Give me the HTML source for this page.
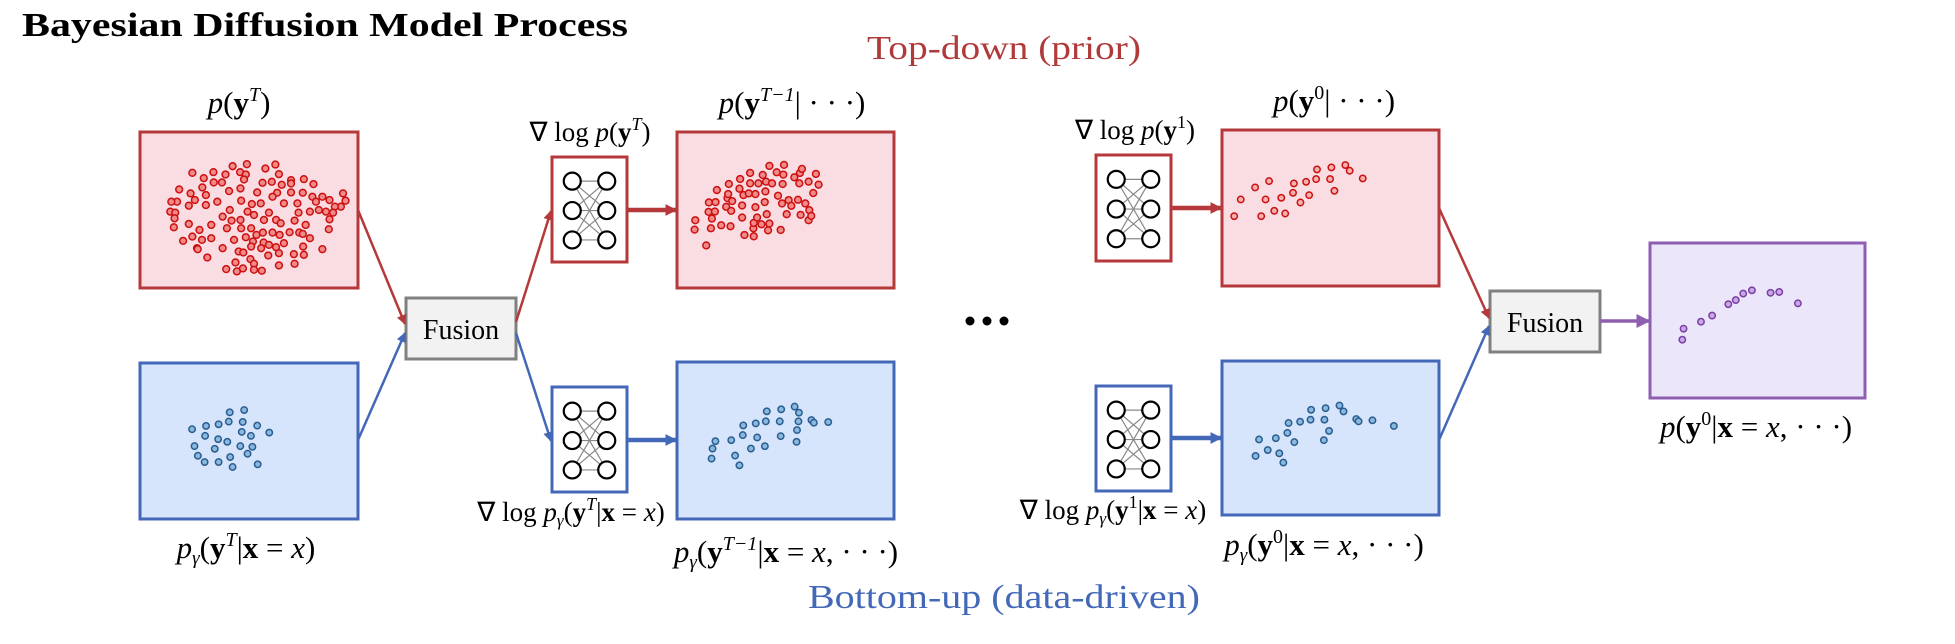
<!DOCTYPE html>
<html><head><meta charset="utf-8"><title>Bayesian Diffusion Model Process</title>
<style>
html,body{margin:0;padding:0;background:#fff;}
svg{display:block;}
text{font-family:"Liberation Serif",serif;}
</style></head>
<body>
<svg id="fig" width="1955" height="644" viewBox="0 0 1955 644" xmlns="http://www.w3.org/2000/svg">
<defs>
<marker id="ar" viewBox="0 0 10 10" refX="9" refY="5" markerWidth="4" markerHeight="4" orient="auto"><path d="M0,0 L10,5 L0,10 z" fill="#b5393a"/></marker>
<marker id="ab" viewBox="0 0 10 10" refX="9" refY="5" markerWidth="4" markerHeight="4" orient="auto"><path d="M0,0 L10,5 L0,10 z" fill="#4468b8"/></marker>
<marker id="ap" viewBox="0 0 10 10" refX="9" refY="5" markerWidth="4" markerHeight="4" orient="auto"><path d="M0,0 L10,5 L0,10 z" fill="#8e5fb0"/></marker>
<marker id="ar2" viewBox="0 0 10 10" refX="9" refY="5" markerWidth="2.6" markerHeight="2.6" orient="auto"><path d="M0,0 L10,5 L0,10 z" fill="#b5393a"/></marker>
<marker id="ab2" viewBox="0 0 10 10" refX="9" refY="5" markerWidth="2.6" markerHeight="2.6" orient="auto"><path d="M0,0 L10,5 L0,10 z" fill="#4468b8"/></marker>
</defs>

<text x="22" y="36" font-size="34" font-weight="bold" textLength="606" lengthAdjust="spacingAndGlyphs">Bayesian Diffusion Model Process</text>
<text x="867" y="59" font-size="34" fill="#b03a3a" textLength="274" lengthAdjust="spacingAndGlyphs">Top-down (prior)</text>
<text x="808" y="608" font-size="34" fill="#4468b8" textLength="392" lengthAdjust="spacingAndGlyphs">Bottom-up (data-driven)</text>

<rect x="140" y="132" width="218" height="156" fill="#f9dde2" stroke="#b5393a" stroke-width="3"/>
<rect x="140" y="363" width="218" height="156" fill="#d6e4fc" stroke="#4468b8" stroke-width="3"/>
<rect x="406" y="298" width="110" height="61" fill="#f2f2f2" stroke="#808080" stroke-width="3"/>
<text x="461" y="339" font-size="28" text-anchor="middle">Fusion</text>
<rect x="677" y="132" width="217" height="156" fill="#f9dde2" stroke="#b5393a" stroke-width="3"/>
<rect x="677" y="362" width="217" height="157" fill="#d6e4fc" stroke="#4468b8" stroke-width="3"/>
<rect x="1222" y="130" width="217" height="156" fill="#f9dde2" stroke="#b5393a" stroke-width="3"/>
<rect x="1222" y="361" width="217" height="154" fill="#d6e4fc" stroke="#4468b8" stroke-width="3"/>
<rect x="1490" y="291" width="110" height="61" fill="#f2f2f2" stroke="#808080" stroke-width="3"/>
<text x="1545" y="332" font-size="28" text-anchor="middle">Fusion</text>
<rect x="1650" y="243" width="215" height="155" fill="#ece6fa" stroke="#8e5fb0" stroke-width="3"/>

<g fill="#000">
<circle cx="970" cy="321" r="4.5"/><circle cx="987" cy="321" r="4.5"/><circle cx="1004" cy="321" r="4.5"/>
</g>

<g fill="none" stroke-width="2.5">
<line x1="358" y1="210" x2="405" y2="324" stroke="#b5393a" marker-end="url(#ar)"/>
<line x1="358" y1="440" x2="405" y2="333" stroke="#4468b8" marker-end="url(#ab)"/>
<line x1="516" y1="322" x2="551" y2="211" stroke="#b5393a" marker-end="url(#ar)"/>
<line x1="516" y1="333" x2="551" y2="441" stroke="#4468b8" marker-end="url(#ab)"/>
<line x1="1439" y1="208" x2="1489" y2="318" stroke="#b5393a" marker-end="url(#ar)"/>
<line x1="1439" y1="440" x2="1489" y2="326" stroke="#4468b8" marker-end="url(#ab)"/>
<line x1="1600" y1="321" x2="1649" y2="321" stroke="#8e5fb0" stroke-width="3.5" marker-end="url(#ap)"/>
<line x1="627" y1="210" x2="676" y2="210" stroke="#b5393a" stroke-width="4.5" marker-end="url(#ar2)"/>
<line x1="627" y1="440" x2="676" y2="440" stroke="#4468b8" stroke-width="4.5" marker-end="url(#ab2)"/>
<line x1="1171" y1="208" x2="1221" y2="208" stroke="#b5393a" stroke-width="4.5" marker-end="url(#ar2)"/>
<line x1="1171" y1="438" x2="1221" y2="438" stroke="#4468b8" stroke-width="4.5" marker-end="url(#ab2)"/>
</g>

<g id="nets"></g>
<g id="dots"></g>

<g font-size="31" text-anchor="middle">
<text x="239" y="113"><tspan font-style="italic">p</tspan>(<tspan font-weight="bold">y</tspan><tspan font-style="italic" font-size="20" dy="-12">T</tspan><tspan dy="12">)</tspan></text>
<text x="590" y="141" font-size="27"><tspan>∇ log </tspan><tspan font-style="italic">p</tspan>(<tspan font-weight="bold">y</tspan><tspan font-style="italic" font-size="18" dy="-11">T</tspan><tspan dy="11">)</tspan></text>
<text x="792" y="113"><tspan font-style="italic">p</tspan>(<tspan font-weight="bold">y</tspan><tspan font-style="italic" font-size="20" dy="-12">T−1</tspan><tspan dy="12">| · · ·)</tspan></text>
<text x="1135" y="139" font-size="27"><tspan>∇ log </tspan><tspan font-style="italic">p</tspan>(<tspan font-weight="bold">y</tspan><tspan font-size="18" dy="-11">1</tspan><tspan dy="11">)</tspan></text>
<text x="1334" y="111"><tspan font-style="italic">p</tspan>(<tspan font-weight="bold">y</tspan><tspan font-size="20" dy="-12">0</tspan><tspan dy="12">| · · ·)</tspan></text>
<text x="246" y="558"><tspan font-style="italic">p</tspan><tspan font-style="italic" font-size="19" dy="6">γ</tspan><tspan dy="-6">(</tspan><tspan font-weight="bold">y</tspan><tspan font-style="italic" font-size="20" dy="-12">T</tspan><tspan dy="12">|</tspan><tspan font-weight="bold">x</tspan> = <tspan font-style="italic">x</tspan>)</text>
<text x="571" y="521" font-size="27"><tspan>∇ log </tspan><tspan font-style="italic">p</tspan><tspan font-style="italic" font-size="17" dy="5">γ</tspan><tspan dy="-5">(</tspan><tspan font-weight="bold">y</tspan><tspan font-style="italic" font-size="18" dy="-11">T</tspan><tspan dy="11">|</tspan><tspan font-weight="bold">x</tspan> = <tspan font-style="italic">x</tspan>)</text>
<text x="786" y="562"><tspan font-style="italic">p</tspan><tspan font-style="italic" font-size="19" dy="6">γ</tspan><tspan dy="-6">(</tspan><tspan font-weight="bold">y</tspan><tspan font-style="italic" font-size="20" dy="-12">T−1</tspan><tspan dy="12">|</tspan><tspan font-weight="bold">x</tspan> = <tspan font-style="italic">x</tspan>, · · ·)</text>
<text x="1113" y="519" font-size="27"><tspan>∇ log </tspan><tspan font-style="italic">p</tspan><tspan font-style="italic" font-size="17" dy="5">γ</tspan><tspan dy="-5">(</tspan><tspan font-weight="bold">y</tspan><tspan font-size="18" dy="-11">1</tspan><tspan dy="11">|</tspan><tspan font-weight="bold">x</tspan> = <tspan font-style="italic">x</tspan>)</text>
<text x="1324" y="555"><tspan font-style="italic">p</tspan><tspan font-style="italic" font-size="19" dy="6">γ</tspan><tspan dy="-6">(</tspan><tspan font-weight="bold">y</tspan><tspan font-size="20" dy="-12">0</tspan><tspan dy="12">|</tspan><tspan font-weight="bold">x</tspan> = <tspan font-style="italic">x</tspan>, · · ·)</text>
<text x="1756" y="437"><tspan font-style="italic">p</tspan>(<tspan font-weight="bold">y</tspan><tspan font-size="20" dy="-12">0</tspan><tspan dy="12">|</tspan><tspan font-weight="bold">x</tspan> = <tspan font-style="italic">x</tspan>, · · ·)</text>
</g>
</svg>
<script>
const priorTX = [255,287,314,348,368,408,389,405,460,488,498,532,568,595,218,250,283,293,315,338,358,390,400,437,452,478,506,532,493,532,565,592,620,640,678,685,672,655,650,640,630,610,602,585,550,553,512,480,470,490,503,456,447,422,410,428,392,360,340,325,293,262,245,212,196,193,207,205,203,245,275,308,352,365,392,390,420,435,453,480,500,528,555,565,585,573,542,638,229,255,282,308,340,372,405,425,455,470,490,512,540,566,568,498,468,448,420,385,398,297,268,350,376,380,397,418,428,428,450,498,542,620,270];
const priorTY = [338,354,336,343,318,312,336,343,325,313,342,360,357,372,388,400,382,405,367,367,393,385,358,397,368,365,374,370,398,397,398,410,410,420,400,422,440,440,458,478,455,450,425,455,430,458,430,410,458,480,490,480,430,432,455,465,422,450,470,425,435,420,437,425,425,455,458,475,502,492,510,495,505,482,505,480,505,525,518,518,525,517,518,522,535,495,482,508,543,530,540,535,565,540,532,545,548,555,562,550,583,560,585,580,587,565,560,575,578,593,565,628,608,635,626,598,612,630,633,617,612,568,568];
const priorTFrame = [108,215,720,685];

const priorT1X = [107,105,140,148,147,157,154,168,166,172,185,200,204,206,208,213,215,218,242,240,248,248,252,255,268,272,272,283,282,283,288,288,293,297,306,310,316,318,320,322,326,330,330,338,352,356,364,368,370,372,374,382,388,396,405,416,420,424,422,428,438,448,450,448,456,462,470,478];
const priorT1Y = [298,326,373,245,273,293,322,244,272,208,313,258,232,220,190,316,270,241,175,204,254,290,223,342,218,157,188,346,322,306,259,220,290,188,310,163,244,212,183,280,328,308,136,188,155,225,327,248,190,162,133,280,238,255,170,237,188,282,157,145,248,183,268,298,285,217,160,192];
const priorT1Frame = [52,35,705,500];

const prior0X = [910,925,958,990,972,982,1002,1018,1027,1045,1047,1062,1075,1082,1098,1100,1130,1133,1140,1165,1175,1205];
const prior0Y = [468,418,382,363,468,418,452,413,460,398,370,427,365,405,357,328,357,322,392,315,332,355];
const prior0Frame = [882,210,1380,677];

const likTX = [188,217,243,264,266,296,293,323,348,291,310,215,242,261,288,313,193,235,200,214,243,267,272,303,324];
const likTY = [267,257,252,244,216,209,245,256,277,275,287,287,297,305,318,320,318,326,347,366,366,351,381,341,373];
const likTFrame = [80,67,532,538];

const likT1X = [1262,1264,1270,1303,1311,1320,1327,1328,1344,1354,1357,1373,1375,1377,1404,1407,1406,1435,1444,1443,1440,1439,1470,1475,1505];
const likT1Y = [355,325,303,300,346,375,285,256,325,250,292,318,244,214,244,208,288,200,218,244,270,305,240,248,246];
const likT1Frame = [1190,67,1642,535];

const lik0X = [446,452,467,481,487,494,501,503,513,523,541,542,565,567,573,564,591,598,620,624,648,685];
const lik0Y = [348,298,330,294,340,368,278,248,306,244,238,208,238,203,272,300,195,213,236,243,240,257];
const lik0Frame = [388,60,763,527];

const postX = [1349,1350,1364,1373,1386,1392,1398,1405,1420,1427,1442];
const postY = [827,800,783,768,740,730,714,706,712,710,738];
const postFrame = [1323,590,1496,970];

const SVGNS = 'http://www.w3.org/2000/svg';
const dots = document.getElementById('dots');
function makeScale(d0, d1, r0, r1){ return v => r0 + (v - d0) / (d1 - d0) * (r1 - r0); }
function drawScatter(name, xs, ys, frame, box, stroke, fill, r){
  const sx = makeScale(frame[0], frame[2], box[0], box[0] + box[2]);
  const sy = makeScale(frame[1], frame[3], box[1], box[1] + box[3]);
  const g = document.createElementNS(SVGNS, 'g');
  
  
  for (let i = 0; i < xs.length; i++){
    const c = document.createElementNS(SVGNS, 'circle');
    
    
    c.setAttribute('cx', sx(xs[i]));
    c.setAttribute('cy', sy(ys[i]));
    c.setAttribute('r', r);
    c.setAttribute('fill', fill);
    c.setAttribute('stroke', stroke);
    c.setAttribute('stroke-width', 1.5);
    g.appendChild(c);
  }
  dots.appendChild(g);
}
drawScatter('prior-t-points', priorTX, priorTY, priorTFrame, [140,132,218,156], '#cc1010', '#f28a8a', 3.4);
drawScatter('prior-t-1-points', priorT1X, priorT1Y, priorT1Frame, [677,132,217,156], '#cc1010', '#f28a8a', 3.4);
drawScatter('prior-0-points', prior0X, prior0Y, prior0Frame, [1222,130,217,156], '#cc1010', '#f7b0b0', 3.2);
drawScatter('likelihood-t-points', likTX, likTY, likTFrame, [140,363,218,156], '#2a5d8f', '#8ab8de', 3.2);
drawScatter('likelihood-t-1-points', likT1X, likT1Y, likT1Frame, [677,362,217,157], '#2a5d8f', '#8ab8de', 3.2);
drawScatter('likelihood-0-points', lik0X, lik0Y, lik0Frame, [1222,361,217,154], '#2a5d8f', '#8ab8de', 3.2);
drawScatter('posterior-points', postX, postY, postFrame, [1650,243,215,155], '#7a3fa0', '#c8a8e8', 3.2);

const nets = document.getElementById('nets');
function drawNet(name, x, y, w, h, stroke){
  const g = document.createElementNS(SVGNS, 'g');
  
  
  const rect = document.createElementNS(SVGNS, 'rect');
  rect.setAttribute('x', x); rect.setAttribute('y', y);
  rect.setAttribute('width', w); rect.setAttribute('height', h);
  rect.setAttribute('fill', '#fff'); rect.setAttribute('stroke', stroke);
  rect.setAttribute('stroke-width', 3);
  g.appendChild(rect);
  const lx = x + w * 0.27, rx = x + w * 0.73;
  const ys = [y + h * 0.23, y + h * 0.51, y + h * 0.79];
  for (const a of ys) for (const b of ys){
    const l = document.createElementNS(SVGNS, 'line');
    l.setAttribute('x1', lx); l.setAttribute('y1', a);
    l.setAttribute('x2', rx); l.setAttribute('y2', b);
    l.setAttribute('stroke', '#888'); l.setAttribute('stroke-width', 1.2);
    g.appendChild(l);
  }
  for (const cx of [lx, rx]) for (const cy of ys){
    const c = document.createElementNS(SVGNS, 'circle');
    c.setAttribute('cx', cx); c.setAttribute('cy', cy); c.setAttribute('r', 8.5);
    c.setAttribute('fill', '#fff'); c.setAttribute('stroke', '#000'); c.setAttribute('stroke-width', 2.2);
    g.appendChild(c);
  }
  nets.appendChild(g);
}
drawNet('prior-score-net-t', 552, 157, 75, 105, '#b5393a');
drawNet('likelihood-score-net-t', 552, 387, 75, 105, '#4468b8');
drawNet('prior-score-net-1', 1096, 155, 75, 106, '#b5393a');
drawNet('likelihood-score-net-1', 1096, 386, 75, 105, '#4468b8');
</script>
</body></html>
